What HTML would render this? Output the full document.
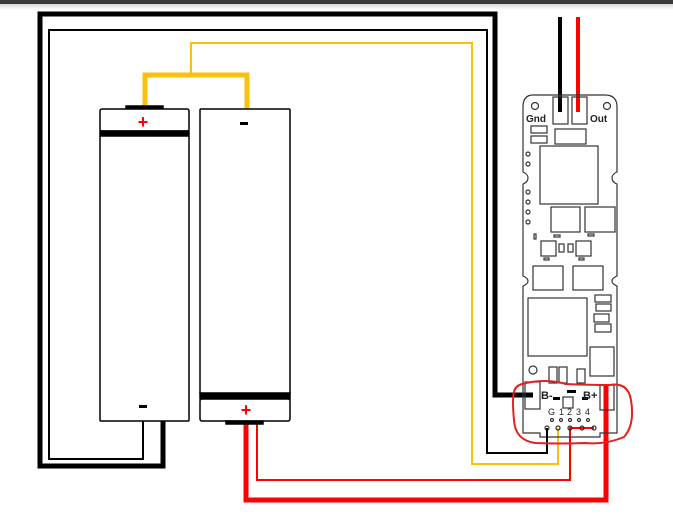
<!DOCTYPE html>
<html><head><meta charset="utf-8"><style>
html,body{margin:0;padding:0;background:#fff;width:673px;height:517px;overflow:hidden}
svg{display:block}
text{font-family:"Liberation Sans",sans-serif}
</style></head><body>
<svg width="673" height="517" viewBox="0 0 673 517" xmlns="http://www.w3.org/2000/svg">
<defs><linearGradient id="g" x1="0" y1="0" x2="0" y2="1"><stop offset="0" stop-color="#d8d8d8"/><stop offset="1" stop-color="#fff"/></linearGradient></defs>
<rect x="0" y="0" width="673" height="4" fill="#383b3e"/>
<rect x="0" y="4" width="673" height="6" fill="url(#g)"/>

<!-- wires -->
<polyline points="163,421 163,466 40,466 40,14 495,14 495,395 533,395" fill="none" stroke="#000" stroke-width="5"/>
<polyline points="143,421 143,459 49,459 49,30 487,30 487,453 547,453 547,428" fill="none" stroke="#000" stroke-width="2"/>
<polyline points="191,73 191,43 472,43 472,464 558,464 558,428" fill="none" stroke="#fbbf10" stroke-width="2"/>
<polyline points="145,109 145,75 247,75 247,109" fill="none" stroke="#fbbf10" stroke-width="5"/>
<polyline points="246,421 246,500 606,500 606,385" fill="none" stroke="#f00" stroke-width="5"/>
<polyline points="257,421 257,480 570,480 570,428 594,428" fill="none" stroke="#f00" stroke-width="2"/>
<line x1="560" y1="17" x2="560" y2="112" stroke="#000" stroke-width="4"/>
<line x1="578" y1="17" x2="578" y2="112" stroke="#f00" stroke-width="4"/>

<!-- left battery -->
<g stroke="#000" stroke-width="1.5" fill="#fff">
<rect x="126" y="106" width="37" height="3" fill="#000"/>
<rect x="100" y="109" width="89" height="22" rx="2"/>
<rect x="100" y="131" width="89" height="5" fill="#000"/>
<rect x="100" y="136" width="89" height="285" rx="1"/>
<rect x="200" y="109" width="90" height="285" rx="1"/>
<rect x="200" y="393" width="90" height="6" fill="#000"/>
<rect x="200" y="399" width="90" height="22" rx="2"/>
<rect x="226" y="421" width="37" height="3" fill="#000"/>
</g>
<text x="143" y="128" font-size="18" font-weight="bold" fill="#f00" text-anchor="middle">+</text>
<rect x="240" y="122" width="8" height="3" fill="#000"/>
<rect x="139" y="405" width="8" height="3" fill="#000"/>
<text x="246" y="416" font-size="18" font-weight="bold" fill="#f00" text-anchor="middle">+</text>

<!-- PCB -->
<g fill="none" stroke="#333" stroke-width="1.2">
<path d="M533,95 H605 Q617,95 617,107 V172 Q612,174 612,178 Q612,182 617,184 V276 Q612,278 612,281 Q612,284 617,286 V433 H600 V437 H540 V433 H523 V286 Q528,284 528,281 Q528,278 523,276 V184 Q528,182 528,178 Q528,174 523,172 V107 Q523,95 533,95 Z"/>
<rect x="553" y="97" width="15" height="27"/><rect x="572" y="97" width="15" height="27"/>
<circle cx="535" cy="106" r="3.5"/><circle cx="607" cy="106" r="3.5"/>
<rect x="531" y="126" width="16" height="7"/><rect x="531" y="136" width="16" height="7"/>
<rect x="555" y="129" width="31" height="15"/>
<rect x="540" y="146" width="58" height="58"/>
<circle cx="528" cy="154" r="2"/><circle cx="528" cy="164" r="2"/>
<circle cx="528" cy="192" r="2"/><circle cx="528" cy="202" r="2"/><circle cx="528" cy="212" r="2"/><circle cx="528" cy="222" r="2"/>
<rect x="551" y="207" width="29" height="25"/><rect x="585" y="207" width="30" height="25"/>
<rect x="534" y="234" width="2" height="5"/><rect x="554" y="235" width="6" height="2"/><rect x="588" y="234" width="6" height="2"/>
<rect x="541" y="241" width="15" height="15"/><rect x="576" y="241" width="15" height="15"/>
<rect x="559" y="244" width="5" height="8"/><rect x="568" y="244" width="5" height="8"/>
<rect x="544" y="258" width="5" height="2"/><rect x="579" y="258" width="5" height="2"/>
<rect x="533" y="266" width="30" height="24"/><rect x="573" y="266" width="30" height="24"/>
<rect x="528" y="298" width="59" height="58"/>
<rect x="595" y="295" width="16" height="7"/><rect x="596" y="304" width="15" height="7"/><rect x="594" y="314" width="15" height="8"/><rect x="595" y="324" width="16" height="8"/>
<rect x="590" y="347" width="24" height="29"/>
<circle cx="533" cy="370" r="4"/>
<rect x="549" y="367" width="8" height="16"/><rect x="559" y="367" width="8" height="16"/><rect x="577" y="369" width="8" height="14"/>
<rect x="525" y="382" width="15" height="27"/><rect x="600" y="385" width="14" height="25"/>
<rect x="563" y="397" width="10" height="11"/>
<circle cx="552" cy="420" r="1.5"/><circle cx="561" cy="420" r="1.5"/><circle cx="570" cy="420" r="1.5"/><circle cx="579" cy="420" r="1.5"/><circle cx="588" cy="420" r="1.5"/>
<circle cx="547" cy="428" r="2"/><circle cx="558" cy="428" r="2"/><circle cx="570" cy="428" r="2"/><circle cx="582" cy="428" r="2"/><circle cx="594" cy="428" r="2"/>
</g>
<rect x="567" y="390" width="9" height="3" fill="#000"/><rect x="553" y="397" width="7" height="3" fill="#000"/><rect x="582" y="397" width="6" height="3" fill="#000"/>
<text x="526" y="122" font-size="10" font-weight="bold" fill="#222">Gnd</text>
<text x="590" y="122" font-size="10" font-weight="bold" fill="#222">Out</text>
<text x="541" y="399" font-size="11" font-weight="bold" fill="#222">B-</text>
<text x="583" y="399" font-size="11" font-weight="bold" fill="#222">B+</text>
<text x="548" y="415" font-size="9" fill="#222">G</text>
<text x="559" y="415" font-size="9" fill="#222">1</text>
<text x="567" y="415" font-size="9" fill="#222">2</text>
<text x="576" y="415" font-size="9" fill="#222">3</text>
<text x="585" y="415" font-size="9" fill="#222">4</text>
<line x1="547" y1="428" x2="547" y2="453" stroke="#000" stroke-width="2"/>
<!-- red hand-drawn loop -->
<path d="M522,384 Q545,378 566,384 Q590,385 610,385 Q628,382 631,400 Q635,425 624,437 Q605,445 585,443 Q560,444 535,443 Q515,440 514,420 Q512,400 514,392 Q515,386 522,384 Z" fill="none" stroke="#e62020" stroke-width="2"/>
</svg>
</body></html>
